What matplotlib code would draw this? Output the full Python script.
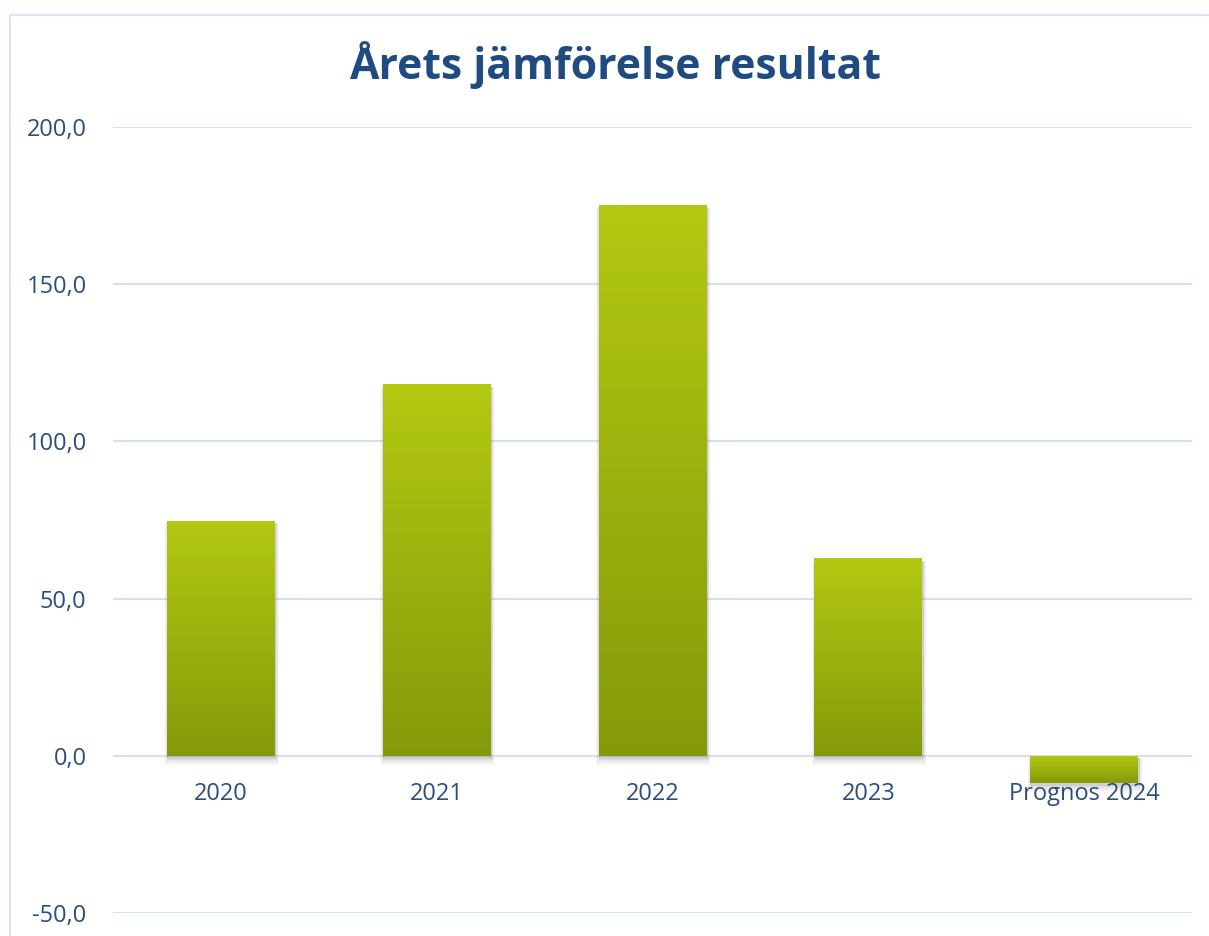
import matplotlib
matplotlib.use("Agg")
import matplotlib.pyplot as plt
import numpy as np
from matplotlib.colors import LinearSegmentedColormap
from matplotlib.patches import Rectangle

categories = ["2020", "2021", "2022", "2023", "Prognos 2024"]
values = [74.8, 118.2, 175.1, 62.9, -8.6]
yticks = [-50, 0, 50, 100, 150, 200]
title = "Årets jämförelse resultat"

plt.rcParams['font.family'] = ['Open Sans', 'DejaVu Sans']

W, H = 1209, 936
fig = plt.figure(figsize=(W / 100, H / 100), dpi=100)
fig.patch.set_facecolor("white")

# outer chart border
fig.patches.append(Rectangle((10 / W, -0.1), 1.2, 1 - 15 / H + 0.1,
                             transform=fig.transFigure, fill=False,
                             edgecolor="#d8e5f5", linewidth=1.6))

ax = fig.add_axes([113 / W, 1 - 913 / H, (1192 - 113) / W, (913 - 127) / H])
ax.set_facecolor("none")
ax.set_xlim(-0.5, len(categories) - 0.5)
ax.set_ylim(-50, 200)

for s in ax.spines.values():
    s.set_visible(False)

ax.set_yticks(yticks)
ax.set_yticklabels([f"{v:.1f}".replace(".", ",") for v in yticks],
                   fontsize=17, color="#2a4e7e")
ax.tick_params(axis="y", length=0, pad=19)
ax.yaxis.grid(True, color="#d3e1f4", linewidth=1.5)
ax.set_axisbelow(True)

x = np.arange(len(categories))
ax.spines['bottom'].set_position(('data', 0))
ax.set_xticks(x)
ax.set_xticklabels(categories, fontsize=17, color="#2a4e7e")
ax.tick_params(axis="x", length=0, pad=19)

cmap = LinearSegmentedColormap.from_list("g", ["#86990a", "#b3c912"])
grad = np.linspace(0, 1, 256).reshape(-1, 1)
width = 0.5
bars = ax.bar(x, values, width=width, color="none", zorder=3)
for b in bars:
    x0, y0 = b.get_x(), b.get_y()
    w, h = b.get_width(), b.get_height()
    lo, hi = min(y0, y0 + h), max(y0, y0 + h)
    # soft shadow
    for i, a in enumerate([0.09, 0.07, 0.05, 0.04, 0.03]):
        dx = 0.003 + 0.003 * i
        dy = 0.9 + 0.55 * i
        sh = Rectangle((x0 - dx + 0.004, lo - dy), w + 2 * dx, hi - lo - 0.8 + dy,
                       facecolor="#4a4a4a", alpha=a, edgecolor="none", zorder=2)
        ax.add_patch(sh)
    im = ax.imshow(grad, cmap=cmap, aspect="auto", origin="lower",
                   extent=[x0, x0 + w, lo, hi], zorder=3)
    im.set_clip_path(b)

ax.set_xlim(-0.5, len(categories) - 0.5)
ax.set_ylim(-50, 200)

fig.text(615 / W, 1 - 65 / H, title, ha="center", va="center",
         fontsize=30.8, fontweight="bold", color="#1f4b80")

fig.savefig("out.png", dpi=100)
